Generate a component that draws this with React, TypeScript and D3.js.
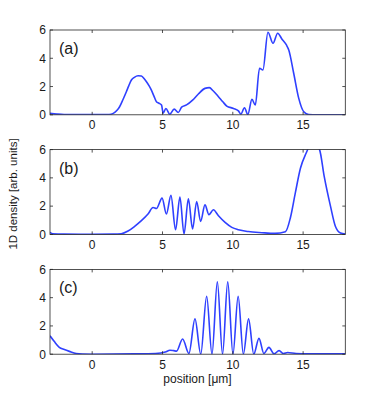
import React from 'react';
import * as d3 from 'd3';

// panel (a) : position [um] and density
const posA = [-3, -2.5, -2, 0, 1.2, 1.5, 1.75, 1.95, 2.2, 2.43, 2.6, 2.79, 3.0, 3.26, 3.5, 3.7, 3.86, 4.05, 4.21, 4.4, 4.57, 4.75, 4.93, 5.05, 5.24, 5.52, 5.83, 6.12, 6.36, 6.71, 7.14, 7.55, 8.02, 8.33, 8.6, 8.98, 9.29, 9.57, 10.05, 10.4, 10.57, 10.83, 11.07, 11.36, 11.6, 11.9, 12.14, 12.5, 12.86, 13.19, 13.5, 13.81, 13.98, 14.33, 14.69, 15.05, 15.4, 16, 18];
const densA = [0.1, 0.05, 0.02, 0.01, 0.02, 0.1, 0.3, 0.57, 1.1, 1.63, 2.05, 2.46, 2.65, 2.76, 2.74, 2.55, 2.34, 2.05, 1.75, 1.3, 0.92, 0.82, 0.69, 0.12, 0.45, 0.04, 0.4, 0.16, 0.54, 0.7, 1.04, 1.47, 1.87, 1.92, 1.7, 1.28, 0.92, 0.62, 0.45, 0.28, 0.05, 0.5, 0.02, 1.09, 0.69, 3.29, 3.17, 5.84, 5.06, 5.77, 5.35, 4.94, 4.59, 2.94, 1.16, 0.21, 0.02, 0, 0];

// panel (b)
const posB = [-3, -2.8, -2, 0, 1.5, 2.07, 2.55, 3.02, 3.5, 3.97, 4.33, 4.57, 4.97, 5.28, 5.6, 5.93, 6.24, 6.53, 6.84, 7.14, 7.43, 7.71, 8.02, 8.3, 8.62, 8.98, 9.45, 9.93, 10.4, 11.1, 12.07, 13.0, 13.74, 14.1, 14.45, 14.81, 15.21, 15.7, 16.17, 16.5, 16.95, 17.3, 17.66, 18];
const densB = [0.15, 0.05, 0.02, 0.01, 0.02, 0.05, 0.24, 0.57, 0.97, 1.44, 1.9, 1.83, 2.57, 1.44, 2.76, 0.33, 2.64, 0.03, 2.52, 0.38, 2.33, 0.92, 2.09, 1.4, 1.74, 1.32, 0.85, 0.5, 0.33, 0.2, 0.12, 0.07, 0.19, 1.2, 2.96, 4.68, 5.74, 6.6, 6.0, 4.1, 1.98, 0.56, 0.1, 0.02];

// panel (c)
const posC = [-3, -2.69, -2.34, -1.98, -1.62, -1.14, -0.7, 0, 3, 4.5, 5.2, 5.53, 5.8, 6.0, 6.43, 6.88, 7.31, 7.72, 8.14, 8.52, 8.9, 9.27, 9.64, 10.01, 10.38, 10.75, 11.12, 11.49, 11.86, 12.21, 12.57, 12.93, 13.29, 13.6, 13.9, 14.5, 15.5, 18];
const densC = [1.3, 0.89, 0.49, 0.33, 0.2, 0.05, 0.01, 0, 0.02, 0.05, 0.15, 0.28, 0.25, 0.22, 1.08, 0.05, 2.5, 0, 4.1, 0, 5.12, 0, 5.12, 0, 4.1, 0, 2.5, 0, 1.12, 0.05, 0.48, 0.02, 0.25, 0.05, 0.12, 0.05, 0.03, 0.02];

const panels = [
  { label: '(a)', pos: posA, dens: densA },
  { label: '(b)', pos: posB, dens: densB },
  { label: '(c)', pos: posC, dens: densC }
];

const xTicks = [0, 5, 10, 15];
const yTicks = [0, 2, 4, 6];

const W = 382;
const H = 398;
const left = 50;
const right = 345.3;
const tops = [30, 149.6, 269.4];
const ph = 84.8;
const font = 'Liberation Sans, Arial, Helvetica, sans-serif';
const blue = '#2f40ff';

const x = d3.scaleLinear().domain([-3, 18]).range([left, right]);

function Panel({ p, top, i }) {
  const y = d3.scaleLinear().domain([0, 6]).range([top + ph, top]);
  const line = d3
    .line()
    .x(d => x(d[0]))
    .y(d => y(d[1]))
    .curve(d3.curveMonotoneX);
  const pts = p.pos.map((v, k) => [v, p.dens[k]]);
  const bottom = top + ph;
  return (
    <g>
      <clipPath id={'clip' + i}>
        <rect x={left} y={top} width={right - left} height={ph} />
      </clipPath>
      <path d={line(pts)} fill="none" stroke={blue} strokeWidth={1.6} clipPath={`url(#clip${i})`} />
      <rect x={left} y={top} width={right - left} height={ph} fill="none" stroke="#262626" strokeWidth={0.8} />
      {xTicks.map(t => (
        <g key={'x' + t}>
          <line x1={x(t)} x2={x(t)} y1={bottom} y2={bottom - 3} stroke="#262626" strokeWidth={0.8} />
          <line x1={x(t)} x2={x(t)} y1={top} y2={top + 3} stroke="#262626" strokeWidth={0.8} />
          <text x={x(t)} y={bottom + 14.5} textAnchor="middle" fontSize={12} fill="#1a1a1a">
            {t}
          </text>
        </g>
      ))}
      {yTicks.map(t => (
        <g key={'y' + t}>
          <line x1={left} x2={left + 3} y1={y(t)} y2={y(t)} stroke="#262626" strokeWidth={0.8} />
          <line x1={right} x2={right - 3} y1={y(t)} y2={y(t)} stroke="#262626" strokeWidth={0.8} />
          <text x={left - 4} y={y(t)} dy="0.36em" textAnchor="end" fontSize={12} fill="#1a1a1a">
            {t}
          </text>
        </g>
      ))}
      <text x={59} y={top + 24} fontSize={16} fill="#1a1a1a">
        {p.label}
      </text>
    </g>
  );
}

export default function App() {
  return (
    <svg
      width={W}
      height={H}
      style={{ position: 'absolute', left: 0, top: 0, background: '#fff' }}
      fontFamily={font}
    >
      {panels.map((p, i) => (
        <Panel key={p.label} p={p} top={tops[i]} i={i} />
      ))}
      <text x={197.5} y={382.5} textAnchor="middle" fontSize={12} fill="#1a1a1a">
        position [μm]
      </text>
      <text
        transform="translate(17,194) rotate(-90)"
        textAnchor="middle"
        fontSize={11.5}
        fill="#1a1a1a"
      >
        1D density [arb. units]
      </text>
    </svg>
  );
}
